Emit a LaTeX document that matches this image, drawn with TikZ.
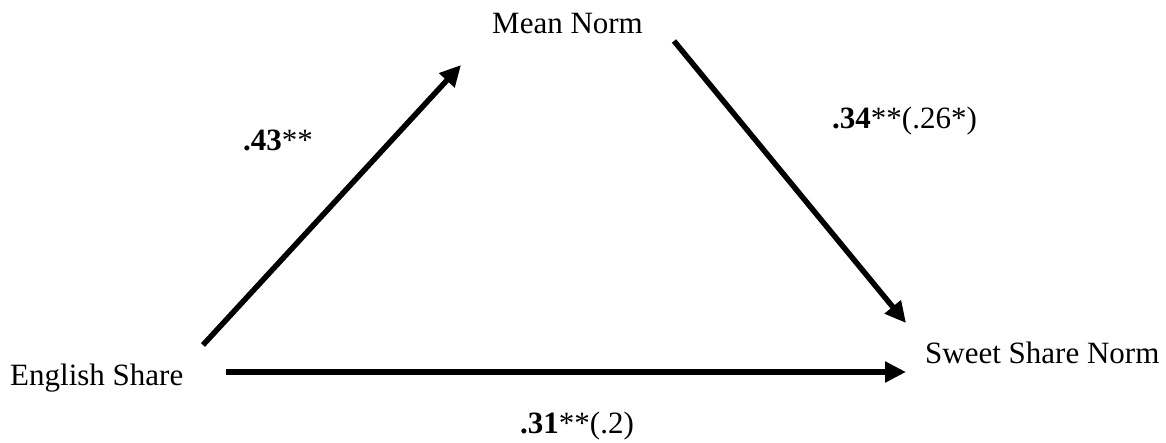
\documentclass[tikz,border=0pt]{standalone}
\usepackage{fontspec}
\setmainfont{Liberation Serif}
\usetikzlibrary{arrows.meta}
\begin{document}
\begin{tikzpicture}[x=1pt,y=-1pt,
  lbl/.style={inner sep=0pt,anchor=base west,font=\fontsize{31}{37}\selectfont},
  conn/.style={line width=5.5pt,-{Triangle[length=21pt,width=20pt]}}]
\useasboundingbox (0,0) rectangle (1166,442);
\node[lbl] (es) at (10,385) {English Share};
\node[lbl] (mn) at (492,33) {Mean Norm};
\node[lbl] (ss) at (925,363) {Sweet Share Norm};
\node[lbl] (l1) at (243,150) {\textbf{.43}**};
\node[lbl] (l2) at (832,128) {\textbf{.34}**(.26*)};
\node[lbl] (l3) at (520,433) {\textbf{.31}**(.2)};
\coordinate (a1s) at (203,345);
\coordinate (a1e) at (461,65);
\coordinate (a2s) at (674,41);
\coordinate (a2e) at (906,323);
\coordinate (a3s) at (226,372);
\coordinate (a3e) at (906,372);
\draw[conn] (a1s) -- (a1e);
\draw[conn] (a2s) -- (a2e);
\draw[conn] (a3s) -- (a3e);
\end{tikzpicture}
\end{document}
